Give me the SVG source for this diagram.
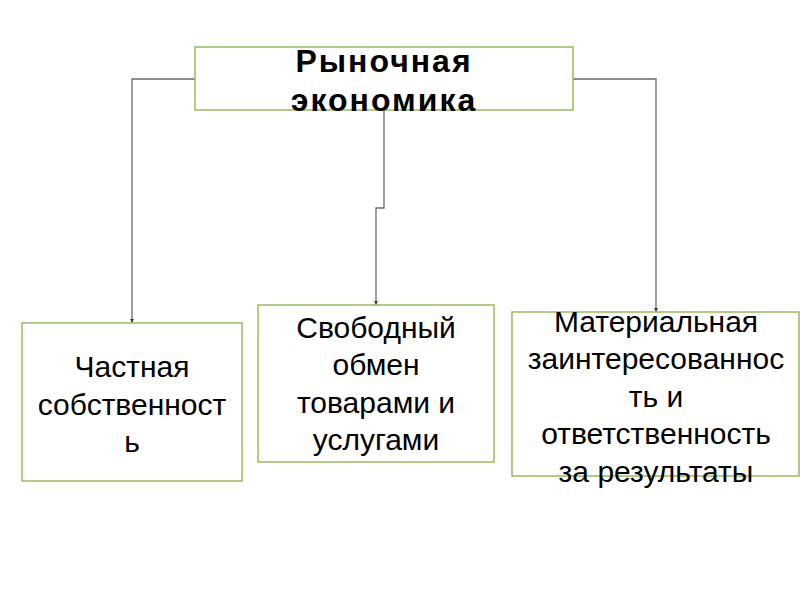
<svg xmlns="http://www.w3.org/2000/svg" width="800" height="600" viewBox="0 0 800 600">
<style>
.box{fill:#ffffff;stroke:#9bbb59;stroke-width:1.5}
.conn{fill:none;stroke:#6a6a6a;stroke-width:1.3}
.t{font-family:"Liberation Sans",Arial,sans-serif;font-size:30px;fill:#000;text-anchor:middle}
.title{font-family:"Liberation Sans",Arial,sans-serif;font-size:32px;font-weight:bold;fill:#000;text-anchor:middle;letter-spacing:2px}
</style>
<defs>
<marker id="arr" viewBox="0 0 10 10" refX="10" refY="5" markerWidth="4" markerHeight="4" orient="auto" markerUnits="userSpaceOnUse">
<path d="M0,0 L10,5 L0,10 z" fill="#404040"/>
</marker>
</defs>
<rect width="800" height="600" fill="#ffffff"/>
<g id="connectors">
<path class="conn" d="M195,79 H132 V323" marker-end="url(#arr)"/>
<path class="conn" d="M384,110 V208 H376 V305" marker-end="url(#arr)"/>
<path class="conn" d="M573,79 H656 V312" marker-end="url(#arr)"/>
</g>
<g id="root">
<rect class="box" x="195" y="47" width="378" height="63"/>
<text class="title" x="384" y="72">Рыночная</text>
<text class="title" x="384" y="111">экономика</text>
</g>
<g id="private">
<rect class="box" x="22" y="323" width="220" height="158"/>
<text class="t" x="132" y="377">Частная</text>
<text class="t" x="132" y="415">собственност</text>
<text class="t" x="132" y="452">ь</text>
</g>
<g id="exchange">
<rect class="box" x="258" y="305" width="236" height="157"/>
<text class="t" x="376" y="338">Свободный</text>
<text class="t" x="376" y="375">обмен</text>
<text class="t" x="376" y="413">товарами и</text>
<text class="t" x="376" y="450">услугами</text>
</g>
<g id="interest">
<rect class="box" x="512" y="312" width="287" height="164"/>
<text class="t" x="656" y="332">Материальная</text>
<text class="t" x="656" y="369">заинтересованнос</text>
<text class="t" x="656" y="407">ть и</text>
<text class="t" x="656" y="444">ответственность</text>
<text class="t" x="656" y="482">за результаты</text>
</g>
</svg>
